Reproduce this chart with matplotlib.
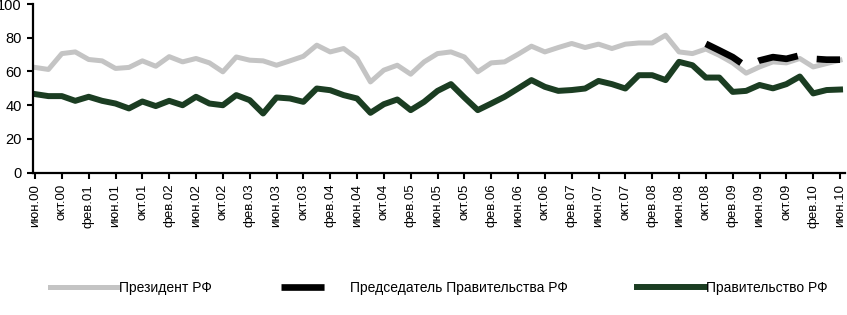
import numpy as np
import matplotlib
matplotlib.use('Agg')
import matplotlib.pyplot as plt
from matplotlib.lines import Line2D

# approval ratings, every two months from June 2000 to June 2010
president = [62.4, 61.2, 70.6, 71.6, 67.1, 66.3, 61.8, 62.4, 66.3, 63.1,
             68.8, 65.7, 67.7, 65.1, 59.8, 68.6, 66.7, 66.3, 63.7, 66.3,
             69.0, 75.6, 71.6, 73.6, 67.7, 53.8, 60.8, 63.7, 58.4, 65.7,
             70.6, 71.6, 68.6, 59.8, 65.1, 65.7, 70.2, 75.0, 71.6, 74.2,
             76.6, 74.2, 76.2, 73.6, 76.2, 76.9, 76.9, 81.5, 71.6, 70.6,
             73.3, 69.6, 65.1, 59.0, 62.7, 65.7, 65.1, 67.7, 62.7, 64.7,
             66.7]
government = [46.6, 45.4, 45.4, 42.6, 45.0, 42.6, 41.0, 38.1, 42.2, 39.5,
              42.6, 40.0, 45.0, 41.0, 40.0, 46.0, 43.0, 35.1, 44.6, 44.0,
              42.0, 49.9, 48.9, 46.0, 44.0, 35.5, 40.6, 43.4, 37.1, 42.0,
              48.5, 52.5, 44.6, 37.1, 41.0, 45.0, 49.9, 54.9, 50.9, 48.5,
              49.0, 49.9, 54.4, 52.5, 49.9, 57.8, 57.8, 54.9, 65.7, 63.7,
              56.4, 56.4, 47.9, 48.5, 52.0, 50.0, 52.5, 57.0, 47.0, 49.0,
              49.3]
premier_start = 50
premier = [76.4, 72.5, 68.5, 63.0, 66.5, 68.5, 67.5, 69.5, 67.5, 67.0, 67.0]

tick_labels = ['июн.00', 'окт.00', 'фев.01', 'июн.01', 'окт.01', 'фев.02',
               'июн.02', 'окт.02', 'фев.03', 'июн.03', 'окт.03', 'фев.04',
               'июн.04', 'окт.04', 'фев.05', 'июн.05', 'окт.05', 'фев.06',
               'июн.06', 'окт.06', 'фев.07', 'июн.07', 'окт.07', 'фев.08',
               'июн.08', 'окт.08', 'фев.09', 'июн.09', 'окт.09', 'фев.10',
               'июн.10']

names = ['Президент РФ', 'Председатель Правительства РФ', 'Правительство РФ']
colors = ['#c4c4c4', 'black', '#1b3d22']
widths = [3.6, 4.8, 4.3]

plt.rcParams['font.family'] = ['Liberation Sans', 'DejaVu Sans']
plt.rcParams['lines.scale_dashes'] = False

x = np.arange(len(president))
x_premier = np.arange(premier_start, premier_start + len(premier))

fig = plt.figure(figsize=(8.47, 3.15), dpi=100)
ax = fig.add_axes([33 / 847, 1 - 172.7 / 315, (845 - 33) / 847, (172.7 - 4) / 315])

ax.plot(x, president, color=colors[0], lw=widths[0], zorder=2)
ax.plot(x_premier, premier, color=colors[1], lw=widths[1], dashes=(29, 14), zorder=3)
ax.plot(x, government, color=colors[2], lw=widths[2], zorder=2)

ax.set_xlim(-0.15, 60.37)
ax.set_ylim(0, 100)
ax.set_yticks(range(0, 101, 20))
ax.set_xticks(range(0, 61, 2))
ax.set_xticklabels(tick_labels, rotation=90, fontsize=9.5)
for lab in ax.get_yticklabels():
    lab.set_fontsize(10.5)

for side in ['top', 'right']:
    ax.spines[side].set_visible(False)
for side in ['left', 'bottom']:
    ax.spines[side].set_linewidth(1.6)
ax.tick_params(axis='both', direction='out', length=4, width=1.5, pad=4)

# legend proxies; the dashed one shows a single dash like the original
handles = [Line2D([], [], color=colors[0], lw=widths[0]),
           Line2D([], [], color=colors[1], lw=widths[1], dashes=(31, 30)),
           Line2D([], [], color=colors[2], lw=widths[2])]
fig.legend(handles, names, loc='center left', bbox_to_anchor=(50 / 847, 1 - 288 / 315),
           ncol=3, frameon=False, handlelength=4.9, handletextpad=0.08,
           columnspacing=4.95, borderpad=0, borderaxespad=0,
           prop={'size': 10})

fig.savefig('out.png', dpi=100)
